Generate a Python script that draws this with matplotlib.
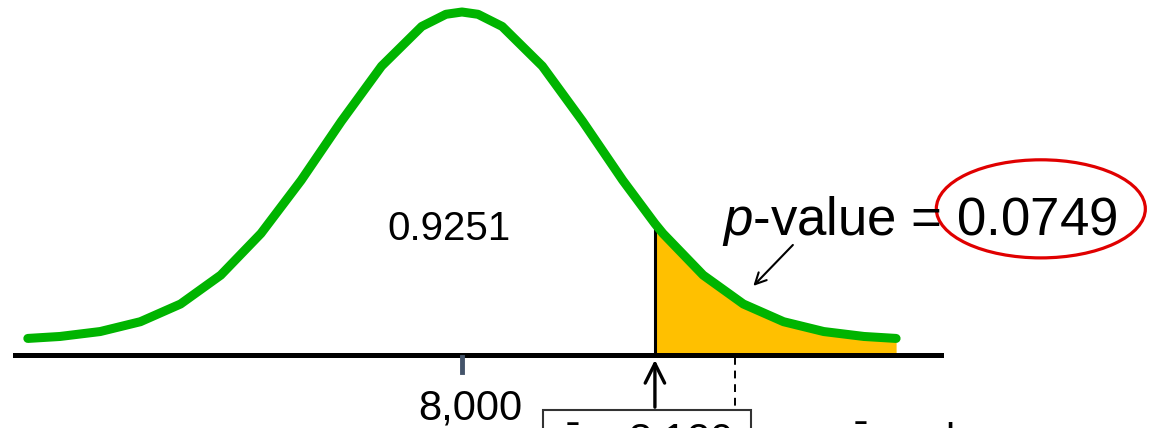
import matplotlib
matplotlib.use("Agg")
import matplotlib.pyplot as plt
from matplotlib.patches import Ellipse, Rectangle
import numpy as np

plt.rcParams['font.family'] = ['Liberation Sans', 'DejaVu Sans']
plt.rcParams['mathtext.fontset'] = 'custom'
plt.rcParams['mathtext.rm'] = 'Liberation Sans'
plt.rcParams['mathtext.it'] = 'Liberation Sans:italic'

# curve vertices (x in $, height relative to peak)
xs = [7730, 7750, 7775, 7800, 7825, 7850, 7875, 7900, 7925, 7950, 7975, 7990, 8000,
      8010, 8025, 8050, 8075, 8100, 8120, 8125, 8150, 8175, 8200, 8225, 8250, 8270]
hs = [0.005, 0.011, 0.026, 0.056, 0.110, 0.198, 0.325, 0.487, 0.667, 0.835, 0.956, 0.993, 1.0,
      0.993, 0.956, 0.835, 0.667, 0.487, 0.355, 0.325, 0.198, 0.110, 0.056, 0.026, 0.011, 0.005]

mu = 8000
xbar = 8120
dash_x = 8170
area_left = "0.9251"
p_value = "0.0749"

green = "#00B400"
yellow = "#FFC000"
axis_y = -0.046

fig = plt.figure(figsize=(11.5, 4.28), dpi=100)
ax = fig.add_axes([0, 0, 1, 1])
ax.set_xlim(7712.7, 8427.9)
ax.set_ylim(-0.268, 1.0366)
ax.axis('off')

xs_a = np.array(xs)
hs_a = np.array(hs)
tail = xs_a >= xbar
ax.fill_between(xs_a[tail], axis_y, hs_a[tail], color=yellow, lw=0, zorder=1)
ax.plot(xs, hs, color=green, lw=6.5, solid_capstyle='round', solid_joinstyle='round', zorder=3)

# baseline and mean tick
ax.plot([7722, 8298], [axis_y, axis_y], color='black', lw=3.6, zorder=4)
ax.plot([mu, mu], [-0.053, -0.097], color='#44546A', lw=3.5, zorder=4)

# critical line at x-bar
h_xbar = hs[xs.index(xbar)]
ax.plot([xbar, xbar], [axis_y, h_xbar], color='black', lw=2.2, zorder=2)
ax.annotate('', xy=(xbar, -0.052), xytext=(xbar, -0.213),
            arrowprops=dict(arrowstyle='->', lw=2.4, color='black', mutation_scale=35))
ax.plot([dash_x, dash_x], [-0.052, -0.2], color='black', lw=1.4, ls=(0, (4, 3)))

# labels
ax.text(7953.4, 0.305, area_left, fontsize=29, ha='left', va='baseline')
ax.text(mu + 5, -0.243, "8,000", fontsize=30, ha='center', va='baseline')
ax.text(8161.7, 0.32, r'$p$-value = ' + p_value, fontsize=38, ha='left', va='baseline')
ax.add_patch(Ellipse((8360, 0.40), 130, 0.299, fill=False, ec='#E00000', lw=2.3))
ax.annotate('', xy=(8180, 0.159), xytext=(8207, 0.296),
            arrowprops=dict(arrowstyle='->', lw=1.5, color='black', mutation_scale=20))

ax.add_patch(Rectangle((8050.4, -0.35), 129.4, 0.137, fill=False, ec='#333333', lw=1.5,
                       clip_on=False))
ax.text(8115, -0.345, r'$\bar{\mathrm{x}}$ = 8,120', fontsize=30, ha='center', va='baseline')
ax.text(8240, -0.345, r'$\bar{\mathrm{x}}$ scale', fontsize=30, ha='left', va='baseline')

fig.savefig("out.png", dpi=100)
